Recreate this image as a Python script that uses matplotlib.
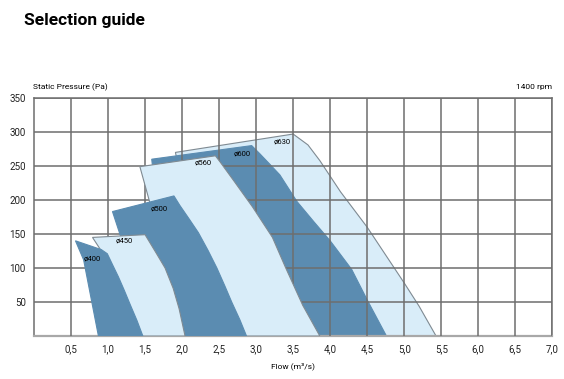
import matplotlib.pyplot as plt
from matplotlib.patches import Polygon

plt.rcParams['font.family'] = ['Roboto', 'DejaVu Sans']

# Fan size areas (flow m3/s, static pressure Pa), drawn back to front
d630_x = [1.91, 3.50, 3.70, 3.86, 4.14, 4.50, 5.00, 5.20, 5.43, 2.90, 1.93]
d630_y = [270, 297, 281, 258, 212, 160, 78, 44, 0, 0, 260]

d600_x = [1.59, 2.94, 3.05, 3.19, 3.32, 3.55, 3.78, 4.00, 4.29, 4.51, 4.76, 2.40, 1.62]
d600_y = [260, 280, 268, 252, 237, 198, 168, 140, 98, 51, 0, 0, 230]

d560_x = [1.43, 2.45, 2.52, 2.70, 2.95, 3.22, 3.40, 3.63, 3.86, 2.20, 1.58]
d560_y = [249, 265, 255, 228, 190, 145, 100, 45, 0, 0, 190]

d500_x = [1.06, 1.89, 1.97, 2.09, 2.22, 2.35, 2.47, 2.58, 2.67, 2.78, 2.87, 1.60, 1.25]
d500_y = [183, 206, 192, 173, 152, 126, 100, 73, 50, 24, 0, 0, 120]

d450_x = [0.79, 1.50, 1.55, 1.65, 1.77, 1.88, 1.96, 2.04, 1.10, 1.00]
d450_y = [145, 149, 140, 122, 100, 70, 40, 0, 0, 110]

d400_x = [0.56, 0.91, 0.99, 1.06, 1.14, 1.22, 1.30, 1.39, 1.47, 0.87, 0.67]
d400_y = [140, 127, 121, 105, 87, 67, 46, 23, 0, 0, 112]

labels = ['ø400', 'ø450', 'ø500', 'ø560', 'ø600', 'ø630']
label_x = [0.78, 1.22, 1.69, 2.28, 2.81, 3.35]
label_y = [114, 140, 188, 255, 269, 286]

x_ticks = [0.5, 1.0, 1.5, 2.0, 2.5, 3.0, 3.5, 4.0, 4.5, 5.0, 5.5, 6.0, 6.5, 7.0]
y_ticks = [50, 100, 150, 200, 250, 300, 350]

dark = '#5b8cb1'
light = '#d9edf9'

fig = plt.figure(figsize=(5.64, 3.79), dpi=100)
ax = fig.add_axes([34 / 564, 43 / 379, 518.3 / 564, 238 / 379])

shapes = [(d630_x, d630_y, light), (d600_x, d600_y, dark),
          (d560_x, d560_y, light), (d500_x, d500_y, dark),
          (d450_x, d450_y, light), (d400_x, d400_y, dark)]
for i, (xs, ys, c) in enumerate(shapes):
    edge = '#7f8a92' if c == light else dark
    ax.add_patch(Polygon(list(zip(xs, ys)), closed=True, facecolor=c,
                         edgecolor=edge, linewidth=0.8, zorder=1 + i))

for lab, lx, ly in zip(labels, label_x, label_y):
    ax.text(lx, ly, lab, fontsize=5.5, ha='center', va='center', zorder=20)

ax.set_xlim(0, 7.0)
ax.set_ylim(0, 350)
ax.set_xticks(x_ticks)
ax.set_xticklabels([f'{v:.1f}'.replace('.', ',') for v in x_ticks])
ax.set_yticks(y_ticks)
ax.tick_params(length=0, labelsize=7, pad=6, colors='#222222')
ax.grid(True, color='#6e6e6e', linewidth=1.1, zorder=10)
ax.set_axisbelow(False)
for s in ax.spines.values():
    s.set_color('#6e6e6e')
    s.set_linewidth(1.1)
ax.spines['bottom'].set_color('#a8a8a8')
ax.spines['bottom'].set_linewidth(1.6)

fig.text(24 / 564, 1 - 20 / 379, 'Selection guide', fontsize=12.5,
         fontweight='bold', va='center', ha='left')
fig.text(33 / 564, 1 - 87 / 379, 'Static Pressure (Pa)', fontsize=6,
         va='center', ha='left')
fig.text(552 / 564, 1 - 87 / 379, '1400 rpm', fontsize=6,
         va='center', ha='right')
fig.text(293 / 564, 1 - 366 / 379, 'Flow (m³/s)', fontsize=6,
         va='center', ha='center')

fig.savefig('out.png', dpi=100)
